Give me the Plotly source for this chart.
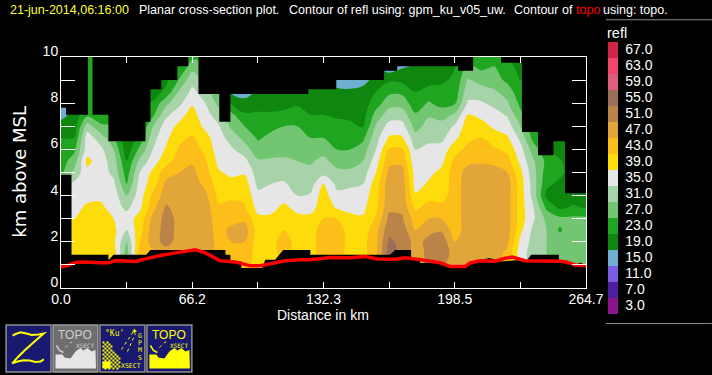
import plotly.graph_objects as go

# ---------- data ----------
dist_km = [0.0,6.6,13.2,19.9,26.5,33.1,39.7,46.3,52.9,59.6,66.2,72.8,79.4,86.0,92.6,99.3,105.9,112.5,
           119.1,125.7,132.3,139.0,145.6,152.2,158.8,165.4,172.0,178.7,185.3,191.9,198.5,205.1,211.7,
           218.4,225.0,231.6,238.2,244.8,251.4,258.1,264.7]
height_km = [0.5,1,1.5,2,2.5,3,3.5,4,4.5,5,5.5,6,6.5,7,7.5,8,8.5,9,9.5,10]

refl_columns = [
 [39,39,39,39,39,37,35,35,33,24,23,22,21,19.5,15,14,14,14,14,14],
 [39,39,39,39,39,37,35,35,34,30,27,24,21,19,19,22,22,22,22,22],
 [39,39,39,39,40,40,38,35,35,36,38,35,35,31,24,22,22,22,22,22],
 [39,39,39,39,39,39,38,36,35,35,35,34,31,26,22,22,22,22,22,22],
 [39,39,39,38,38,37,35,35,34,32,31,29,26,25,25,25,25,25,25,25],
 [27,27,27,29,33,35,32,29,25,23,21,18.5,18,18,18,18,18,18,18,18],
 [43,43,43,41,39.5,38.5,36,35,34.5,33,30,26,22,20,20,20,20,20,20,20],
 [46,46,45,47,47,46,43.5,42,39,38,35,33,31.5,29,24,21.5,19,19,19,19],
 [47,47,47,50.5,50.5,50.5,49.5,47,46,43,39.5,37.5,36,35,32,28,22,20,20,20],
 [47,47,47,47.5,48,48,47.5,47,46.5,45,43,41.5,40,38,35.5,32,29.5,25.5,21.5,20],
 [47,47,47,47,47,47,47.5,47.5,47,46,44.5,43,41.5,39.5,38.5,36.5,34,31.5,28,24],
 [47,47,47,47,47,47,47,46,44,42.5,41.5,40,38.5,36,34.5,33,31,28,26,24],
 [44,44,44,44,43.5,43,41.5,40,39,37.5,36,35,34.5,33.5,31,28,25,24,24,24],
 [44,44,44,45,46,43.5,42.5,40,38.5,36,35,33.5,31.5,28,26,20.5,16,14,14,14],
 [43,43,44,45,47,44,41.5,40,39,36.5,34,31,27.5,25,21.5,18.5,15,14,14,14],
 [39,39,39,39,39,38,35.5,34,32,31,29.5,26.5,24.5,23,21.5,19.5,18,18,18,18],
 [39,39,39,39,39,38,35.5,34.5,33,31.5,29.5,27.5,26,24,21.5,19.5,18.5,18,18,18],
 [43,43,43,43.5,41,39.5,38,35,33.5,31.5,29.5,28,27,25,22,19.5,18,18,18,18],
 [39,39,39,39,39,38.5,35.5,33,31.5,30,29,27.5,26,25,22.5,20.5,19,18,18,18],
 [39,39,39,39,39,38.5,35,33.5,31,30,28.5,27,25,23.5,21,19,18,18,18,18],
 [43,43,43.5,43.5,43,41,39.5,39,37.5,31.5,30,27.5,25,23,21,18.5,17.5,17,17,17],
 [43,43,43,43,43,41,36.5,34,32,30,27.5,25,23.5,22,20.5,19,18,15,14,14],
 [39.5,39.5,39.5,40,39.5,38,36,35,32,30,27,25,23.5,22,20,18.5,18,14,14,14],
 [39.5,39.5,39.5,39.5,39,37.5,36,35,33,31,29,27,24,20.5,19.5,19,18.5,15.5,14,14],
 [44,44,44,44,43.5,41.5,40,39.5,39,37,35,33,31.5,29.5,26.5,23,21,18.5,17,14],
 [55,55,55,53.7,52,50,48,47.5,47.5,46,44,41.5,37.5,34.5,31,27.5,24,20.5,15,14],
 [52,52,52,52,51,49.5,48,47.5,47.5,46.5,44,41.5,37.5,34.5,31,27.5,24,20,17,14],
 [47,47,47,47.5,45,43,40,37.5,35.5,35,34,33,30.5,27.5,25.5,22.5,21,19,18,15],
 [50,50,50,50,48,45,42.5,39.5,37.5,36,35,34,32,30.5,28.5,25.5,22.5,19.5,18,15],
 [50,50,52,51.5,48.5,45,42,39.5,38.5,38,36,34.5,32,30.5,27.5,23.5,22,20.5,18.5,15],
 [47,47,47,45,43,43,43,43,43,43,42,39.5,36,33.5,29.5,24.5,22.5,21.5,21,21],
 [47,47,47,47,47,47,47,47,47,46.5,44,42,40,39,37,33.5,31.5,29.5,26.5,23],
 [47,47,47,47,47,47,47,47,47,46.5,44.5,42.5,41,38.5,36,33.5,31,27.5,24.5,22],
 [47,47,47,47,47,47,47,47,47,46.5,44,41.5,39,36.3,34.5,32,29.5,27,25.5,23],
 [44,44,44,46,47,47,47,47,47,45,42.5,40,37.5,35,32.5,29.5,27.5,24,22.5,21],
 [35,35,35,36,38,39,39,39,39,38,36,34.5,32,29,26,24,22,21,20,20],
 [31,31,31,31.5,32,33.5,33,31.5,31,30.5,29.5,27,23.5,22,22,22,22,22,22,22],
 [29,29,29,29,29,28,24,20,22,23,24,22,22,22,22,22,22,22,22,22],
 [27,27,27,27,24.5,26,20,19,20,22,21.5,19,19,19,19,19,19,19,19,19],
 [27,27,27,27,27,26,21.5,19,19,19,19,19,19,19,19,19,19,19,19,19],
 [27,27,27,27,27,26,20.5,19,19,19,19,19,19,19,19,19,19,19,19,19],
]

# top of the echo, as steps (left edge of each step, height)
echo_top_x = [0,2.5,13.6,15.9,23.9,42.6,45.1,50.6,58.7,64.2,69.3,79.8,85.4,124.7,138.8,162.9,169.5,
              200.2,207.8,221.9,232.4,240.5,248.3,254.1,264.7]
echo_top_km = [7.8,7.5,10,7.5,6.35,7.2,8.6,9.0,9.6,10,8.4,7.2,8.4,8.6,9.0,9.4,9.6,9.4,10,9.75,6.75,
               5.75,6.35,4.1]

# bottom of the echo
echo_base_x = [0,5.3,5.3,23.9,23.9,26.4,43,45.1,82.9,82.9,85.4,85.4,90.9,90.9,101.5,103,108,112,125.7,
               125.7,165.9,168.5,176.5,176.5,181,181,190,192,203,206,216,222,229,235,237,251,251,259.2,
               262,264.7]
echo_base_km = [4.9,4.9,1.44,1.44,1.2,1.44,1.44,1.65,1.65,1.44,1.44,1.15,1.15,0.87,0.87,1.22,1.22,1.65,
                1.65,1.44,1.44,1.65,1.65,1.25,1.25,1.08,1.08,1.0,0.93,1.1,1.3,1.15,1.2,1.2,1.44,1.44,
                1.15,1.0,1.1,0.95]

topo_x = [0,2.8,7.3,12.3,19.9,23.9,27.5,30,37.5,42.6,50.1,57.7,67.7,72.8,80.3,87.9,95.5,100.5,105.5,
          113.1,120.6,125.7,135.7,145.8,153.4,159.4,168.5,173.5,181.1,191.2,196.2,203.8,206.3,211.3,
          218.9,223.9,227.5,234,251.7,254.6,259.2,264.7]
topo_km = [0.91,0.96,1.11,1.13,1.09,1.09,1.19,1.18,1.15,1.26,1.41,1.52,1.65,1.52,1.18,1.13,0.96,0.96,
           1.05,1.18,1.22,1.22,1.32,1.31,1.36,1.26,1.25,1.31,1.22,1.09,0.93,0.93,1.09,1.18,1.16,1.29,
           1.34,1.18,1.16,1.13,1.0,0.96]

level_labels = [3,7,11,15,19,23,27,31,35,39,43,47,51,55,59,63,67]
level_colors = ["#8a148c","#4b1f9e","#7a5de0","#6fadd1","#0f870f","#1fa51f","#72c672","#a6d3a8",
                "#e6e6e6","#fcdc0a","#fcbe19","#e2a53a","#ba8449","#9c6e59","#de5f7d","#f0466e","#cf2648"]

x_tick_vals = [0,33.09,66.18,99.26,132.35,165.44,198.53,231.61,264.7]
x_tick_text = ["0.0","","66.2","","132.3","","198.5","","264.7"]
y_tick_vals = [0,1,2,3,4,5,6,7,8,9,10]
y_tick_text = ["0","","2","","4","","6","","8","","10"]

# ---------- helpers ----------
assert len(refl_columns) == len(dist_km)
assert all(len(c) == len(height_km) for c in refl_columns)
z = [[c[i] for c in refl_columns] for i in range(len(height_km))]

L, R, T, B = 60.5, 586.0, 56.5, 288.3
W, H = R - L, B - T
PX = lambda v: (v - L) / W
PY = lambda v: (B - v) / H

colorscale = []
n = len(level_colors)
for i, c in enumerate(level_colors):
    colorscale += [[i / n, c], [(i + 1) / n, c]]

top_x, top_y = [0], [10]
for i, t in enumerate(echo_top_km):
    top_x += [echo_top_x[i], echo_top_x[i + 1]]
    top_y += [t, t]
top_x += [264.7, 0]
top_y += [10, 10]

fig = go.Figure()
fig.add_trace(go.Contour(
    x=dist_km, y=height_km, z=z, zmin=1, zmax=69, colorscale=colorscale,
    autocontour=False, contours=dict(start=1, end=69, size=4, coloring="fill", showlines=False),
    line=dict(width=0), hoverinfo="skip",
    colorbar=dict(
        x=PX(608), xanchor="left", y=PY(41), yanchor="top", lenmode="pixels", len=272,
        thicknessmode="pixels", thickness=10, xpad=0, ypad=0, outlinewidth=0, borderwidth=0,
        tickmode="array", tickvals=level_labels, ticktext=[f"{v:.1f}" for v in level_labels],
        ticks="outside", ticklen=5, tickcolor="rgba(0,0,0,0)",
        tickfont=dict(family="Liberation Sans", size=14, color="white"), bgcolor="rgba(0,0,0,0)"),
))
fig.add_trace(go.Scatter(x=top_x, y=top_y, mode="lines", fill="toself", fillcolor="black",
                         line=dict(width=0, color="black"), hoverinfo="skip", showlegend=False))
fig.add_trace(go.Scatter(x=[0] + echo_base_x + [264.7, 0], y=[4.9] + echo_base_km + [0, 0],
                         mode="lines", fill="toself", fillcolor="black",
                         line=dict(width=0, color="black"), hoverinfo="skip", showlegend=False))
fig.add_trace(go.Scatter(x=topo_x, y=topo_km, mode="lines", line=dict(color="#ff0000", width=3.5),
                         hoverinfo="skip", showlegend=False))

shapes, ann = [], []

def text(s, x, y, color="white", size=12.5, anchor="left", family="Liberation Sans", angle=0):
    xx = x - 2.5 if anchor == "left" else x
    ann.append(dict(text=s, x=PX(xx), y=PY(y), xref="paper", yref="paper", showarrow=False,
                    xanchor=anchor, yanchor="middle", textangle=angle,
                    font=dict(family=family, size=size, color=color)))

def rect(x0, y0, x1, y1, fill, line=None, lw=0):
    shapes.append(dict(type="rect", xref="paper", yref="paper", x0=PX(x0), x1=PX(x1), y0=PY(y0), y1=PY(y1),
                       fillcolor=fill, line=dict(color=line or fill, width=lw), layer="above"))

def poly(pts, fill=None, line=None, lw=0, closed=True, dash=None):
    d = "M " + " L ".join(f"{PX(a):.5f},{PY(b):.5f}" for a, b in pts) + (" Z" if closed else "")
    ln = dict(color=line or "rgba(0,0,0,0)", width=lw)
    if dash:
        ln["dash"] = dash
    shapes.append(dict(type="path", xref="paper", yref="paper", path=d,
                       fillcolor=fill or "rgba(0,0,0,0)", line=ln, layer="above"))

# header
text("21-jun-2014,06:16:00", 10, 9, "#ffff33")
text("Planar cross-section plot.", 139.5, 9)
text("Contour of refl using: gpm_ku_v05_uw.", 289.5, 9)
text("Contour of", 514.5, 9)
text("topo", 576, 9, "#ff0000")
text("using: topo.", 604, 9)

# axis titles, colour-bar title and rules
text("Distance in km", 323, 315, size=14, anchor="center")
text("km above MSL", 19, 172, size=18, anchor="center", family="DejaVu Sans", angle=-90)
text("refl", 608, 32, size=14.5)
rect(606, 18.5, 712, 19.5, "#8c8c8c")
rect(606, 323.5, 712, 324.5, "#8c8c8c")

# icons
NAVY, EDGE = "#191970", "#8f8f8f"
rect(5.5, 325.5, 50.5, 372.5, NAVY, EDGE, 1.5)
rect(52.5, 325.5, 97.5, 372.5, "#6e6e6e", "#9a9a9a", 1.5)
rect(99.5, 325.5, 144.5, 372.5, NAVY, EDGE, 1.5)
rect(146.5, 325.5, 191.5, 372.5, NAVY, EDGE, 1.5)

Y = "#ffff00"
poly([(12, 336), (15, 334.5), (20, 332.7), (26, 334), (31, 335.5), (38, 335), (43.3, 334),
      (34, 342), (24, 351), (17, 358), (11.7, 364), (17, 362), (23, 360.7), (29, 361), (35, 362.5),
      (40, 362), (43.3, 360)], line=Y, lw=2, closed=False)

skyline = [(0, 35), (7, 35), (9, 38), (15, 39), (20, 32), (25, 28.5), (28, 31), (32, 28.5), (36, 32),
           (40, 30.5), (40.5, 49), (0, 49)]
for x0, fill, tcol in [(55, "#e6e6e6", "#cfcfcf"), (149, Y, Y)]:
    poly([(x0 + a, 320 + b) for a, b in skyline], fill=fill)
    text("TOPO", x0 + 20, 335.5, tcol, 12, "center")
    text("XSECT", x0 + 29.5, 346, tcol, 6, "center", "DejaVu Sans Mono")
    poly([(x0 + 1, 346), (x0 + 4, 351), (x0 + 8, 353)], line=tcol, lw=1.5, closed=False)
    poly([(x0 + 10, 348), (x0 + 15, 343), (x0 + 18, 342)], line=tcol, lw=1, closed=False, dash="dot")

# dithered earth of the third icon
squares = []
for j in range(14):
    yy = 342 + j * 2
    xmax = 107 + min(j * 1.6, 13)
    i = 0
    while 102 + i * 2 < xmax:
        if (i + j) % 2 == 0:
            a, b = 102 + i * 2, yy
            squares.append(f"M {PX(a):.5f},{PY(b):.5f} L {PX(a+2):.5f},{PY(b):.5f} "
                           f"L {PX(a+2):.5f},{PY(b+2):.5f} L {PX(a):.5f},{PY(b+2):.5f} Z")
        i += 1
shapes.append(dict(type="path", xref="paper", yref="paper", path=" ".join(squares),
                   fillcolor=Y, line=dict(width=0), layer="above"))
rect(102, 362, 110, 369, Y)
poly([(121, 350), (133, 332)], line=Y, lw=1, closed=False, dash="dot")
poly([(127, 352), (135, 334)], line=Y, lw=1, closed=False, dash="dot")
text("✦", 134, 332, Y, 8, "center", "DejaVu Sans")
text("°Ku'", 114, 333.5, Y, 8, "center", "DejaVu Sans Mono")
for ch, yy in [("G", 336), ("P", 343.5), ("M", 351), ("S", 358.5)]:
    text(ch, 140, yy, Y, 6.5, "center", "DejaVu Sans Mono")
text("XSECT", 131, 367, Y, 6.5, "center", "DejaVu Sans Mono")

fig.update_layout(
    width=712, height=375, paper_bgcolor="black", plot_bgcolor="black",
    margin=dict(l=L, r=712 - R, t=T, b=375 - B, pad=0, autoexpand=False),
    shapes=shapes, annotations=ann, showlegend=False,
    xaxis=dict(range=[0, 264.7], tickmode="array", tickvals=x_tick_vals, ticktext=x_tick_text,
               ticks="inside", ticklen=6, tickwidth=1, tickcolor="white", showline=True, linecolor="white",
               linewidth=1, mirror="ticks", showgrid=False, zeroline=False, ticklabelstandoff=-2,
               tickfont=dict(family="Liberation Sans", size=14, color="white"), tickangle=0),
    yaxis=dict(range=[0, 10], tickmode="array", tickvals=y_tick_vals, ticktext=y_tick_text,
               ticks="inside", ticklen=14, tickwidth=1, tickcolor="white", showline=True, linecolor="white",
               linewidth=1, mirror="ticks", showgrid=False, zeroline=False, ticklabelshift=-6,
               ticklabelstandoff=-1,
               tickfont=dict(family="Liberation Sans", size=14, color="white")),
)

fig.write_html("out.html", config=dict(displayModeBar=False),
               post_script="document.body.style.margin='0';document.body.style.background='black';")
